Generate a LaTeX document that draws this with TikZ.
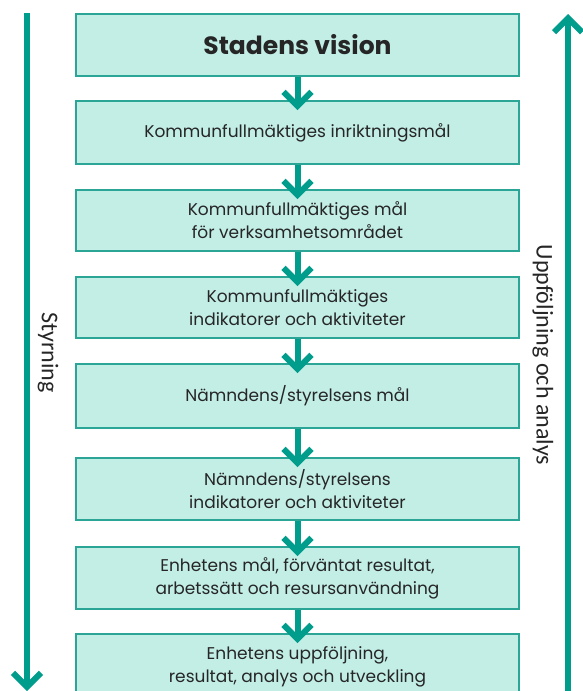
\documentclass[tikz,border=0pt]{standalone}
\usepackage{fontspec}
\setmainfont{Poppins}
\newfontfamily\sidefont{Carlito}
\usetikzlibrary{arrows.meta}
\definecolor{flowteal}{HTML}{009C8C}
\definecolor{boxmint}{HTML}{C2EEE6}
\definecolor{boxedge}{HTML}{2BA595}
\tikzset{>={Straight Barb[length=14pt,width=28pt]}}

\begin{document}
\begin{tikzpicture}[x=1pt, y=-1pt,
    stage/.style={draw=boxedge, line width=2pt, fill=boxmint, minimum width=443pt,
      anchor=north, align=center, inner sep=0pt, text=black!85,
      font=\fontsize{17}{23}\selectfont},
    flow/.style={->, draw=flowteal, line width=6pt},
    side/.style={rotate=-90, text=black!85, font=\sidefont\fontsize{24}{28}\selectfont}]
        \useasboundingbox (0, 0) rectangle (582, 691);
        % boxes
        \node[stage, minimum height=62pt, font=\fontsize{25}{28}\selectfont\bfseries] (vision) at (297.5, 13) {Stadens vision};
        \node[stage, minimum height=63pt] (inrikt) at (297.5, 100) {Kommunfullmäktiges inriktningsmål};
        \node[stage, minimum height=61pt] (kfmal) at (297.5, 189) {Kommunfullmäktiges mål\\för verksamhetsområdet};
        \node[stage, minimum height=61pt] (kfind) at (297.5, 276) {Kommunfullmäktiges\\indikatorer och aktiviteter};
        \node[stage, minimum height=64pt] (nmal) at (297.5, 363) {Nämndens/styrelsens mål};
        \node[stage, minimum height=62pt] (nind) at (297.5, 457) {Nämndens/styrelsens\\indikatorer och aktiviteter};
        \node[stage, minimum height=62pt] (enhmal) at (297.5, 546) {Enhetens mål, förväntat resultat,\\arbetssätt och resursanvändning};
        \node[stage, minimum height=66pt] (enhupp) at (297.5, 633) {Enhetens uppföljning,\\resultat, analys och utveckling};
        % arrows between boxes
        \foreach \a/\b in {vision/inrikt, inrikt/kfmal, kfmal/kfind, kfind/nmal,
                           nmal/nind, nind/enhmal, enhmal/enhupp}
          \draw[flow] (\a.south) -- ([yshift=-10pt]\b.north);
        % side lines
        \coordinate (styrtop) at (27, 13);
        \coordinate (styrend) at (27, 691);
        \coordinate (uppstart) at (568, 691);
        \coordinate (uppend) at (568, 14);
        \draw[flow] (styrtop) -- (styrend);
        \draw[flow] (uppstart) -- (uppend);
        \node[side] (styrning) at (48, 352.5) {Styrning};
        \node[side] (uppfoljning) at (543, 355) {Uppföljning och analys};
\end{tikzpicture}
\end{document}
